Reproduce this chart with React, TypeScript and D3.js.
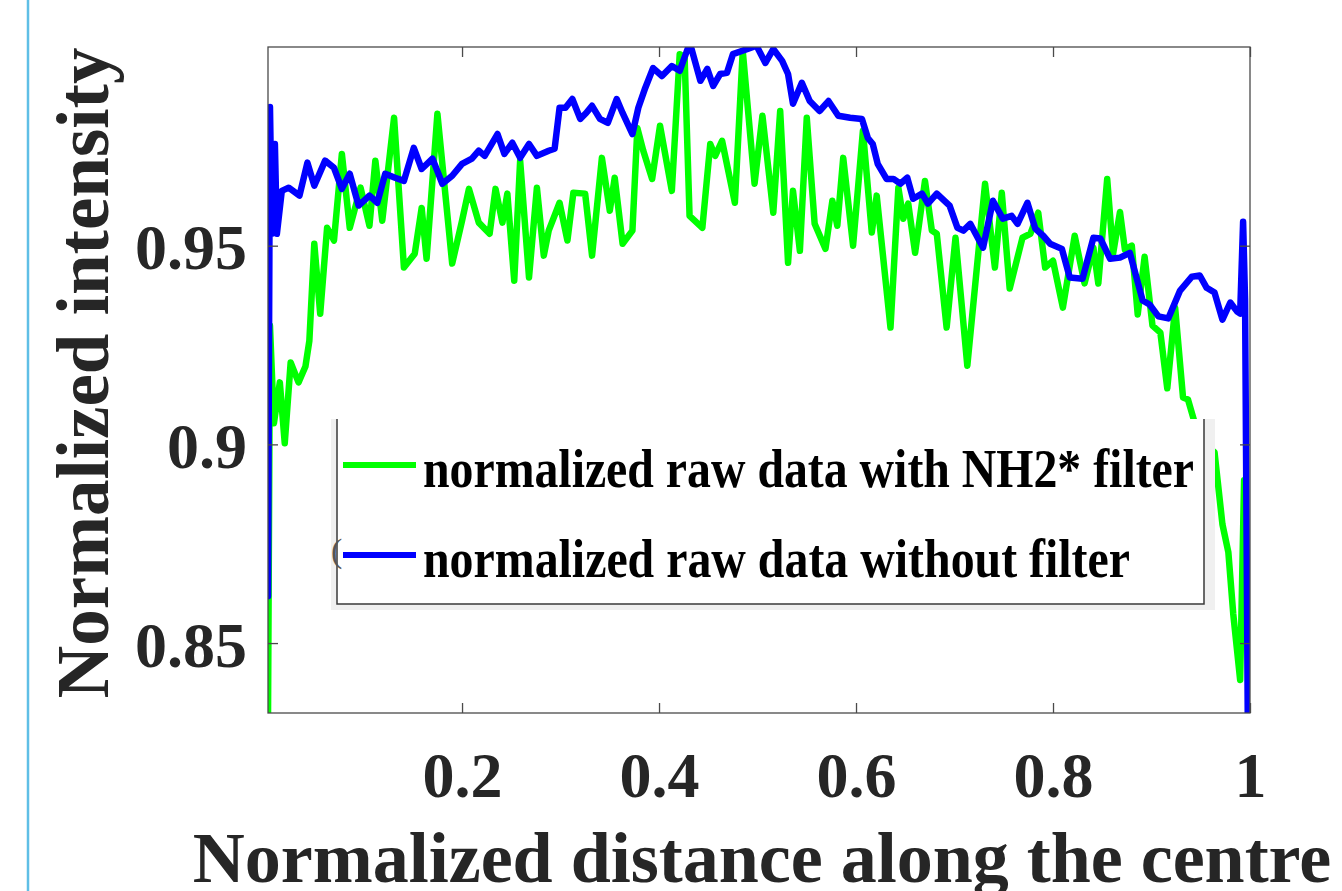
import { useEffect, useRef } from "react";
import * as d3 from "d3";

const width = 1342;
const height = 891;
const plot = { left: 268, right: 1250, top: 47, bottom: 713 };

const xDomain: [number, number] = [0.003, 1];
const yDomain: [number, number] = [0.8324, 1.0];
const xTicks = [0.2, 0.4, 0.6, 0.8, 1];
const yTicks = [0.85, 0.9, 0.95];

const xTitle = "Normalized distance along the centre";
const yTitle = "Normalized intensity";
const seriesNames = [
  "normalized raw data with NH2* filter",
  "normalized raw data without filter",
];
const seriesColors = ["#00ff00", "#0000ff"];

// [normalized distance, normalized intensity]
const withFilter: [number, number][] = [
  [0.003, 0.8307], [0.005, 0.9299], [0.009, 0.9053], [0.015, 0.9156], [0.02, 0.9003],
  [0.026, 0.9206], [0.034, 0.9156], [0.041, 0.9196], [0.045, 0.9261], [0.05, 0.9505],
  [0.056, 0.9329], [0.063, 0.9545], [0.07, 0.9513], [0.078, 0.9731], [0.086, 0.9545],
  [0.097, 0.9646], [0.106, 0.955], [0.112, 0.9714], [0.119, 0.9563], [0.131, 0.9822],
  [0.141, 0.9445], [0.152, 0.948], [0.159, 0.9595], [0.164, 0.9467], [0.175, 0.9832],
  [0.19, 0.9455], [0.2, 0.9563], [0.207, 0.9643], [0.217, 0.9558], [0.228, 0.953],
  [0.234, 0.9643], [0.241, 0.9558], [0.246, 0.9631], [0.253, 0.9412], [0.259, 0.9714],
  [0.268, 0.942], [0.276, 0.9646], [0.283, 0.9475], [0.288, 0.9538], [0.299, 0.9608],
  [0.307, 0.9513], [0.313, 0.9633], [0.325, 0.9631], [0.332, 0.9475], [0.342, 0.9721],
  [0.35, 0.9588], [0.355, 0.9671], [0.363, 0.9505], [0.373, 0.9538], [0.378, 0.9796],
  [0.384, 0.9739], [0.393, 0.9668], [0.401, 0.9802], [0.413, 0.9638], [0.421, 0.9982],
  [0.426, 0.9972], [0.431, 0.9575], [0.444, 0.9545], [0.452, 0.9756], [0.457, 0.9726],
  [0.464, 0.9764], [0.477, 0.9608], [0.485, 0.999], [0.497, 0.9656], [0.505, 0.9827],
  [0.516, 0.9583], [0.523, 0.9839], [0.531, 0.9457], [0.536, 0.9638], [0.543, 0.9487],
  [0.55, 0.9822], [0.558, 0.9555], [0.569, 0.9492], [0.576, 0.9613], [0.581, 0.955],
  [0.587, 0.9721], [0.597, 0.95], [0.607, 0.9789], [0.616, 0.9533], [0.621, 0.9626],
  [0.635, 0.9294], [0.643, 0.9646], [0.648, 0.9568], [0.653, 0.9606], [0.66, 0.9482],
  [0.67, 0.9663], [0.677, 0.9538], [0.682, 0.953], [0.692, 0.9294], [0.701, 0.952],
  [0.713, 0.9198], [0.731, 0.9656], [0.741, 0.9445], [0.748, 0.9633], [0.756, 0.9392],
  [0.769, 0.952], [0.777, 0.953], [0.785, 0.9583], [0.792, 0.9445], [0.8, 0.9462],
  [0.81, 0.9344], [0.822, 0.9525], [0.832, 0.9405], [0.841, 0.9495], [0.846, 0.9405],
  [0.855, 0.9668], [0.861, 0.948], [0.868, 0.9585], [0.873, 0.949], [0.88, 0.95],
  [0.886, 0.9327], [0.893, 0.9472], [0.901, 0.9299], [0.909, 0.9281], [0.916, 0.9141],
  [0.924, 0.9344], [0.932, 0.9118], [0.937, 0.9113], [0.949, 0.901], [0.964, 0.898],
  [0.972, 0.8799], [0.978, 0.8729], [0.983, 0.8573], [0.99, 0.8407], [0.994, 0.891],
];

const withoutFilter: [number, number][] = [
  [0.003, 0.8618], [0.005, 0.9849], [0.007, 0.953], [0.01, 0.9756], [0.012, 0.953],
  [0.017, 0.9638], [0.024, 0.9646], [0.035, 0.9626], [0.043, 0.9709], [0.05, 0.9651],
  [0.061, 0.9714], [0.07, 0.9696], [0.078, 0.9643], [0.086, 0.9681], [0.095, 0.9601],
  [0.106, 0.9626], [0.114, 0.9608], [0.122, 0.9681], [0.132, 0.9671], [0.141, 0.9663],
  [0.151, 0.9746], [0.159, 0.9693], [0.17, 0.9719], [0.18, 0.9656], [0.19, 0.9676],
  [0.2, 0.9706], [0.21, 0.9719], [0.217, 0.9739], [0.223, 0.9726], [0.236, 0.9781],
  [0.243, 0.9731], [0.251, 0.9759], [0.259, 0.9721], [0.268, 0.9756], [0.276, 0.9726],
  [0.288, 0.9739], [0.294, 0.9744], [0.299, 0.9847], [0.305, 0.9847], [0.312, 0.9869],
  [0.32, 0.9819], [0.326, 0.9834], [0.332, 0.9852], [0.34, 0.9819], [0.348, 0.9809],
  [0.357, 0.9869], [0.363, 0.9834], [0.373, 0.9781], [0.379, 0.9847], [0.386, 0.9897],
  [0.394, 0.9947], [0.403, 0.9927], [0.413, 0.9952], [0.421, 0.994], [0.429, 0.9995],
  [0.433, 0.9995], [0.442, 0.9915], [0.449, 0.9945], [0.455, 0.9902], [0.462, 0.9932],
  [0.469, 0.9935], [0.475, 0.9982], [0.484, 0.999], [0.49, 0.9995], [0.499, 1.0003],
  [0.508, 0.996], [0.516, 0.9995], [0.525, 0.9965], [0.531, 0.9932], [0.536, 0.9857],
  [0.545, 0.991], [0.553, 0.9864], [0.563, 0.9839], [0.572, 0.9864], [0.582, 0.9827],
  [0.594, 0.9822], [0.606, 0.9819], [0.612, 0.9771], [0.617, 0.9756], [0.622, 0.9706],
  [0.631, 0.9668], [0.638, 0.9668], [0.645, 0.9656], [0.652, 0.9671], [0.658, 0.9618],
  [0.667, 0.9631], [0.673, 0.9606], [0.682, 0.9631], [0.695, 0.9601], [0.703, 0.9545],
  [0.709, 0.9538], [0.716, 0.9555], [0.729, 0.9495], [0.739, 0.9613], [0.749, 0.9568],
  [0.758, 0.9575], [0.764, 0.9555], [0.774, 0.9608], [0.782, 0.9543], [0.79, 0.9525],
  [0.797, 0.9505], [0.809, 0.9492], [0.817, 0.942], [0.83, 0.9417], [0.841, 0.952],
  [0.848, 0.9518], [0.858, 0.9467], [0.868, 0.947], [0.878, 0.9482], [0.891, 0.9362],
  [0.898, 0.9352], [0.907, 0.9322], [0.917, 0.9317], [0.929, 0.9387], [0.941, 0.9422],
  [0.949, 0.9425], [0.956, 0.9394], [0.964, 0.9382], [0.972, 0.9314], [0.98, 0.9357],
  [0.987, 0.9334], [0.99, 0.9329], [0.993, 0.956], [0.995, 0.9362], [0.998, 0.8206],
];

const serif = "'Liberation Serif', 'Times New Roman', serif";
const textColor = "#262626";
const axisColor = "#4a4a4a";

export default function App() {
  const svgRef = useRef<SVGSVGElement | null>(null);

  const x = d3.scaleLinear().domain(xDomain).range([plot.left, plot.right]);
  const y = d3.scaleLinear().domain(yDomain).range([plot.bottom, plot.top]);

  const line = d3
    .line<[number, number]>()
    .x((d) => x(d[0]))
    .y((d) => y(d[1]));

  useEffect(() => {
    if (!svgRef.current) return;
    const svg = d3.select(svgRef.current);

    const styleAxis = (g: d3.Selection<SVGGElement, unknown, null, undefined>) => {
      g.select(".domain").remove();
      g.attr("font-family", serif).attr("font-size", 64).attr("font-weight", "bold");
      g.selectAll("line").attr("stroke", axisColor).attr("stroke-width", 1.3);
      g.selectAll("text").attr("fill", textColor);
    };

    // x 軸 (刻度朝內)
    svg
      .select<SVGGElement>(".x-axis")
      .attr("transform", `translate(0,${plot.bottom})`)
      .call(
        d3.axisBottom(x).tickValues(xTicks).tickSizeInner(-10).tickSizeOuter(0)
          .tickPadding(39).tickFormat((d) => String(d)),
      )
      .call(styleAxis);

    svg
      .select<SVGGElement>(".x-axis-top")
      .attr("transform", `translate(0,${plot.top})`)
      .call(d3.axisTop(x).tickValues(xTicks).tickSizeInner(-10).tickSizeOuter(0).tickFormat(() => ""))
      .call(styleAxis);

    // y 軸
    svg
      .select<SVGGElement>(".y-axis")
      .attr("transform", `translate(${plot.left},0)`)
      .call(
        d3.axisLeft(y).tickValues(yTicks).tickSizeInner(-10).tickSizeOuter(0)
          .tickPadding(21).tickFormat((d) => String(d)),
      )
      .call(styleAxis);
    svg.select(".y-axis").selectAll("text").attr("dy", "0.36em");

    svg
      .select<SVGGElement>(".y-axis-right")
      .attr("transform", `translate(${plot.right},0)`)
      .call(d3.axisRight(y).tickValues(yTicks).tickSizeInner(-10).tickSizeOuter(0).tickFormat(() => ""))
      .call(styleAxis);
  }, []);

  const legend = { left: 337, right: 1204, top: 419, bottom: 604 };

  return (
    <svg
      ref={svgRef}
      width={width}
      height={height}
      viewBox={`0 0 ${width} ${height}`}
      style={{ position: "absolute", left: 0, top: 0, background: "#ffffff" }}
    >
      <rect x={0} y={0} width={width} height={height} fill="#ffffff" />
      <line x1={28} x2={28} y1={0} y2={height} stroke="#5fbfe6" strokeWidth={2.5} />

      <defs>
        <clipPath id="plot-clip">
          <rect x={plot.left} y={plot.top} width={plot.right - plot.left} height={plot.bottom - plot.top} />
        </clipPath>
      </defs>

      <g clipPath="url(#plot-clip)" fill="none" strokeWidth={6.5} strokeLinejoin="round" strokeLinecap="round">
        <path d={line(withFilter) ?? ""} stroke={seriesColors[0]} />
        <path d={line(withoutFilter) ?? ""} stroke={seriesColors[1]} />
      </g>

      <rect
        x={plot.left}
        y={plot.top}
        width={plot.right - plot.left}
        height={plot.bottom - plot.top}
        fill="none"
        stroke={axisColor}
        strokeWidth={1.3}
      />
      <g className="x-axis" />
      <g className="x-axis-top" />
      <g className="y-axis" />
      <g className="y-axis-right" />

      {/* 圖例 */}
      <rect x={331} y={legend.top} width={1215 - 331} height={610 - legend.top} fill="#f0f0f0" />
      <rect
        x={legend.left}
        y={legend.top}
        width={legend.right - legend.left}
        height={legend.bottom - legend.top}
        fill="#ffffff"
      />
      <path
        d={`M${legend.left},${legend.top}V${legend.bottom}H${legend.right}V${legend.top}`}
        fill="none"
        stroke="#3a3a3a"
        strokeWidth={1.5}
      />
      <text x={331} y={562} fontFamily={serif} fontSize={34} fill="#555555">
        (
      </text>
      {seriesNames.map((name, i) => {
        const cy = 465 + i * 90;
        return (
          <g key={name}>
            <line x1={343} x2={416} y1={cy} y2={cy} stroke={seriesColors[i]} strokeWidth={6} />
            <text
              x={423}
              y={cy + 22}
              fontFamily={serif}
              fontWeight="bold"
              fontSize={55}
              fill="#000000"
              textLength={i === 0 ? 771 : 707}
              lengthAdjust="spacingAndGlyphs"
            >
              {name}
            </text>
          </g>
        );
      })}

      <text
        x={(plot.left + plot.right) / 2 + 3}
        y={882}
        textAnchor="middle"
        fontFamily={serif}
        fontWeight="bold"
        fontSize={72}
        fill={textColor}
      >
        {xTitle}
      </text>
      <text
        transform={`translate(108,373) rotate(-90)`}
        textAnchor="middle"
        fontFamily={serif}
        fontWeight="bold"
        fontSize={73}
        fill={textColor}
      >
        {yTitle}
      </text>
    </svg>
  );
}
